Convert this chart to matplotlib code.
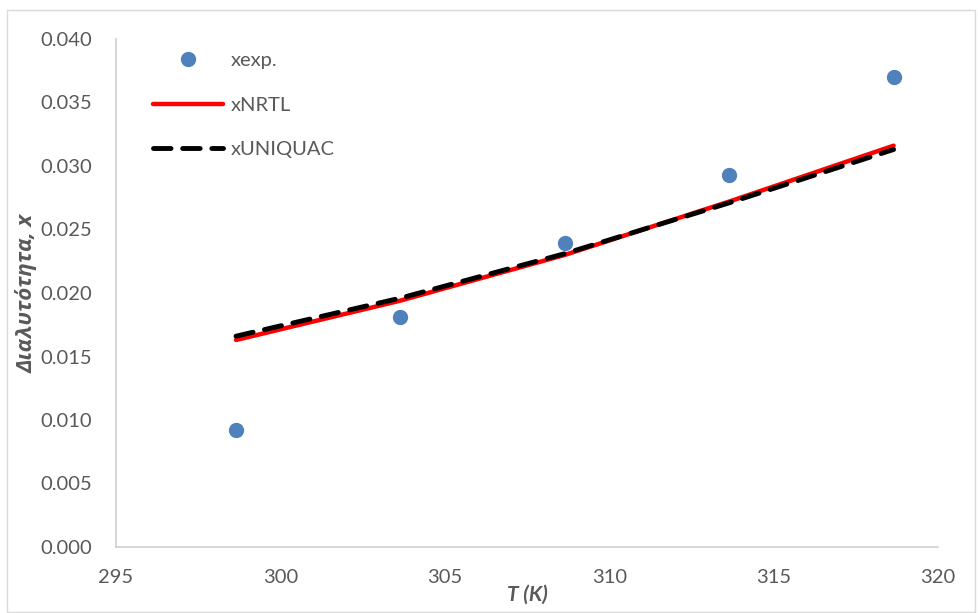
import matplotlib
matplotlib.use("Agg")
import matplotlib.pyplot as plt
from matplotlib.patches import Rectangle

# data
T = [298.65, 303.65, 308.65, 313.65, 318.65]
x_exp = [0.0092, 0.0181, 0.0239, 0.0293, 0.0370]
x_nrtl = [0.0163, 0.0194, 0.0230, 0.0272, 0.0316]
x_uniquac = [0.0166, 0.0196, 0.0231, 0.0271, 0.0313]

xticks = [295, 300, 305, 310, 315, 320]
yticks = [0.000, 0.005, 0.010, 0.015, 0.020, 0.025, 0.030, 0.035, 0.040]

plt.rcParams['font.family'] = ['Lato', 'DejaVu Sans']
grey = '#595959'

fig = plt.figure(figsize=(9.79, 6.13), dpi=100)
fig.patches.append(Rectangle((7/979, 1/613), 968/979, 602/613, transform=fig.transFigure,
                             fill=False, edgecolor='#d9d9d9', linewidth=1))
ax = fig.add_axes([116/979, 1-547/613, 822/979, 508/613])

ax.plot(T, x_exp, 'o', color='#4F81BD', markersize=10, label='xexp.', zorder=4)
ax.plot(T, x_nrtl, color='#FF0000', linewidth=3.2, label='xNRTL', solid_capstyle='round', zorder=2)
ax.plot(T, x_uniquac, color='black', linewidth=3.5, dashes=(3.6, 2.4), label='xUNIQUAC',
        dash_capstyle='round', zorder=3)

ax.set_xlim(295, 320)
ax.set_ylim(0, 0.040)
ax.set_xticks(xticks)
ax.set_yticks(yticks)
ax.set_xticklabels([str(t) for t in xticks])
ax.set_yticklabels([f"{v:.3f}" for v in yticks])
ax.tick_params(length=0, labelsize=14.5, colors=grey)
ax.tick_params(axis='y', pad=17)
ax.tick_params(axis='x', pad=16)

for s in ['top', 'right']:
    ax.spines[s].set_visible(False)
for s in ['left', 'bottom']:
    ax.spines[s].set_color('#d0d0d0')
    ax.spines[s].set_linewidth(1.2)

ax.set_xlabel('T (K)', fontsize=15, fontweight='bold', fontstyle='italic', color=grey, labelpad=-1)
ax.set_ylabel('Διαλυτότητα, x', fontsize=16, fontweight='bold', fontstyle='italic', color=grey,
              labelpad=2, family=['Open Sans', 'DejaVu Sans'])

leg = ax.legend(loc='upper left', bbox_to_anchor=(0.045, 0.974), frameon=False, fontsize=14.5,
                handlelength=3.5, labelspacing=1.35, handletextpad=0.35, borderpad=0,
                borderaxespad=0)
for t in leg.get_texts():
    t.set_color(grey)

fig.savefig('out.png', dpi=100)
